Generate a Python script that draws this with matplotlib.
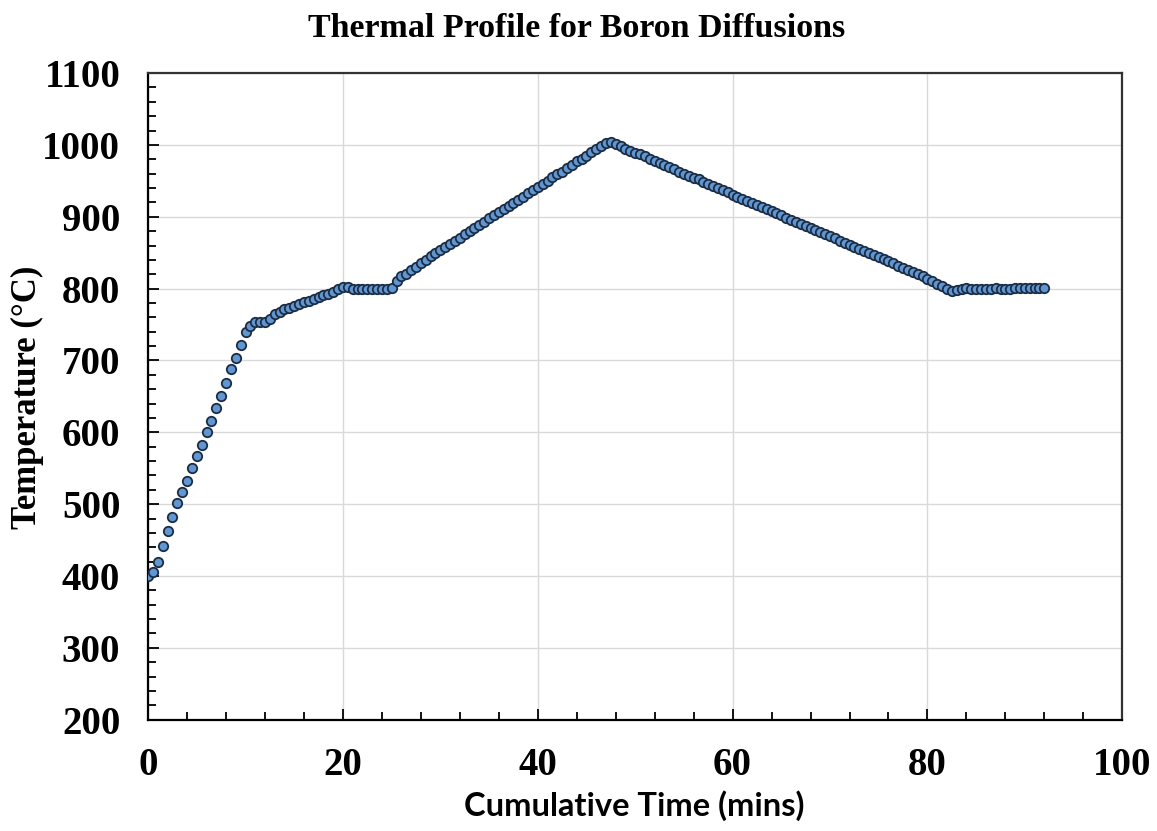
import matplotlib
matplotlib.use("Agg")
import matplotlib.pyplot as plt
from matplotlib.ticker import MultipleLocator

# Time stamps (mins), one reading every half minute
times = [
    0, 0.5, 1, 1.5, 2, 2.5, 3, 3.5, 4, 4.5, 5, 5.5, 6, 6.5, 7, 7.5, 8, 8.5, 9, 9.5,
    10, 10.5, 11, 11.5, 12, 12.5, 13, 13.5, 14, 14.5, 15, 15.5, 16, 16.5, 17, 17.5, 18, 18.5, 19, 19.5,
    20, 20.5, 21, 21.5, 22, 22.5, 23, 23.5, 24, 24.5, 25, 25.5, 26, 26.5, 27, 27.5, 28, 28.5, 29, 29.5,
    30, 30.5, 31, 31.5, 32, 32.5, 33, 33.5, 34, 34.5, 35, 35.5, 36, 36.5, 37, 37.5, 38, 38.5, 39, 39.5,
    40, 40.5, 41, 41.5, 42, 42.5, 43, 43.5, 44, 44.5, 45, 45.5, 46, 46.5, 47, 47.5, 48, 48.5, 49, 49.5,
    50, 50.5, 51, 51.5, 52, 52.5, 53, 53.5, 54, 54.5, 55, 55.5, 56, 56.5, 57, 57.5, 58, 58.5, 59, 59.5,
    60, 60.5, 61, 61.5, 62, 62.5, 63, 63.5, 64, 64.5, 65, 65.5, 66, 66.5, 67, 67.5, 68, 68.5, 69, 69.5,
    70, 70.5, 71, 71.5, 72, 72.5, 73, 73.5, 74, 74.5, 75, 75.5, 76, 76.5, 77, 77.5, 78, 78.5, 79, 79.5,
    80, 80.5, 81, 81.5, 82, 82.5, 83, 83.5, 84, 84.5, 85, 85.5, 86, 86.5, 87, 87.5, 88, 88.5, 89, 89.5,
    90, 90.5, 91, 91.5, 92,
]

# Temperature readings (deg C)
temps = [
    400, 405, 419, 442, 463, 482, 502, 517, 532, 550, 567, 583, 600, 616, 634, 651, 669, 688, 704, 722,
    740, 748, 753, 753, 753, 758, 765, 768, 771, 773, 776, 778, 781, 783, 786, 788, 791, 793, 796, 799,
    802, 802, 800, 799, 799, 800, 800, 800, 800, 800, 801, 810, 817, 820, 826, 830, 836, 840, 845, 849,
    854, 858, 862, 867, 871, 876, 880, 884, 889, 893, 898, 902, 906, 911, 915, 919, 924, 928, 933, 937,
    941, 946, 950, 955, 959, 963, 968, 972, 977, 981, 985, 990, 994, 999, 1003, 1004, 1001, 998, 995, 992,
    989, 987, 984, 981, 978, 975, 972, 969, 966, 963, 960, 957, 954, 952, 949, 946, 943, 940, 937, 934,
    931, 928, 925, 922, 919, 917, 914, 911, 908, 905, 902, 899, 896, 893, 890, 887, 884, 882, 879, 876,
    873, 870, 867, 864, 861, 858, 855, 852, 849, 847, 844, 841, 838, 835, 832, 829, 826, 823, 820, 817,
    814, 811, 807, 803, 800, 797, 798, 800, 801, 800, 800, 800, 800, 800, 801, 800, 800, 800, 801, 801,
    801, 801, 801, 801, 801,
]

serif = ["Liberation Serif", "DejaVu Serif"]

fig = plt.figure(figsize=(11.57, 8.31), dpi=100)
ax = fig.add_axes([0.128, 0.134, 0.842, 0.778])

ax.scatter(times, temps, s=46, facecolor="#6196d0", edgecolor="#1b2d45",
           linewidths=1.3, zorder=3)

ax.set_xlim(0, 100)
ax.set_ylim(200, 1100)
ax.xaxis.set_major_locator(MultipleLocator(20))
ax.xaxis.set_minor_locator(MultipleLocator(4))
ax.yaxis.set_major_locator(MultipleLocator(100))
ax.yaxis.set_minor_locator(MultipleLocator(20))

ax.grid(True, which="major", color="#d9d9d9", linewidth=1.0, zorder=0)
ax.set_axisbelow(True)

ax.tick_params(which="both", direction="in", color="black", width=1.3)
ax.tick_params(which="major", length=8, pad=20)
ax.tick_params(which="minor", length=6)
for side in ["left", "bottom"]:
    ax.spines[side].set_linewidth(1.6)
for side in ["top", "right"]:
    ax.spines[side].set_linewidth(1.6)
    ax.spines[side].set_color("#333333")

for lab in ax.get_xticklabels() + ax.get_yticklabels():
    lab.set_fontfamily(serif)
    lab.set_fontweight("bold")
    lab.set_fontsize(28)

# axis titles placed directly in figure coords
fig.text(0.024, 0.522, "Temperature (°C)", family=serif, fontweight="bold",
         fontsize=25, rotation=90, ha="center", va="center")
fig.text(0.548, 0.031, "Cumulative Time (mins)", family=["Lato", "DejaVu Sans"],
         fontweight="bold", fontsize=23.5, ha="center", va="center")
fig.text(0.498, 0.966, "Thermal Profile for Boron Diffusions", family=serif,
         fontweight="bold", fontsize=24.5, ha="center", va="center")

fig.savefig("out.png", dpi=100, facecolor="white")
